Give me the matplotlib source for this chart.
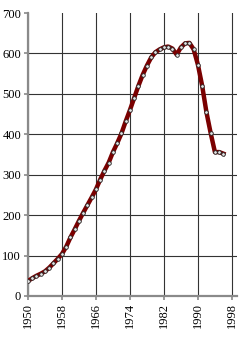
import matplotlib
matplotlib.use("Agg")
import matplotlib.pyplot as plt

years = list(range(1950, 1997))
values = [37, 44, 50, 55, 61, 70, 81, 92, 104, 122,
          145, 165, 186, 206, 225, 244, 264, 288, 310, 330,
          356, 378, 402, 432, 460, 490, 520, 547, 570, 590,
          603, 610, 615, 617, 612, 597, 615, 625, 626, 610,
          572, 520, 455, 403, 356, 356, 352]
xticks = [1950, 1958, 1966, 1974, 1982, 1990, 1998]
yticks = [0, 100, 200, 300, 400, 500, 600, 700]

fig = plt.figure(figsize=(2.47, 3.43), dpi=100)
ax = fig.add_axes([28/247, 47/343, 209/247, 283/343])

ax.plot(years, values, color="#7a0000", lw=3.2, solid_joinstyle="round", zorder=3)
ax.plot(years, values, ls="none", marker="o", ms=2.6, mfc="#e4e4e4", mec="#222222",
        mew=0.6, zorder=4)

ax.set_xlim(1950, 1999.2)
ax.set_ylim(0, 700)
ax.set_xticks(xticks)
ax.set_yticks(yticks)
ax.set_xticklabels([str(t) for t in xticks], rotation=90, family="Liberation Serif", fontsize=9)
ax.set_yticklabels([str(t) for t in yticks], family="Liberation Serif", fontsize=9)

ax.grid(True, color="#333333", lw=0.8)
ax.set_axisbelow(True)
ax.get_ygridlines()[-1].set_visible(False)

for s in ["top", "right"]:
    ax.spines[s].set_visible(False)
for s in ["left", "bottom"]:
    ax.spines[s].set_color("#8a8a8a")
    ax.spines[s].set_linewidth(1.6)
ax.tick_params(axis="both", colors="#8a8a8a", length=3, width=1.2, labelcolor="black", pad=2)

fig.savefig("out.png", dpi=100)
